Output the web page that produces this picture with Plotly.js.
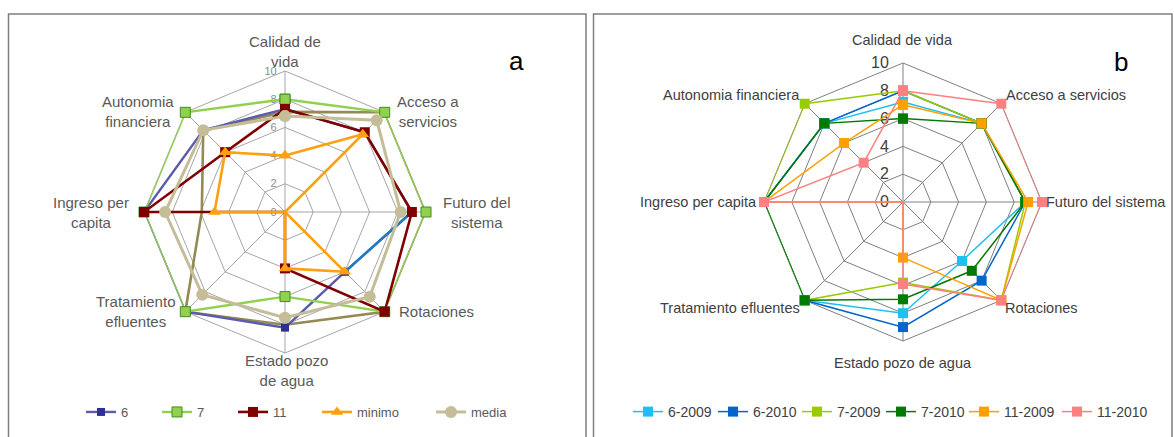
<!DOCTYPE html>
<html>
<head>
<meta charset="utf-8">
<script src="https://cdn.plot.ly/plotly-3.0.1.min.js"></script>
<style>html,body{margin:0;padding:0;background:#fff;}#chart{width:1174px;height:437px;}</style>
</head>
<body>
<div id="chart"></div>
<script>
// Categories (clockwise from top)
const categories = ['Calidad de vida','Acceso a servicios','Futuro del sistema','Rotaciones','Estado pozo de agua','Tratamiento efluentes','Ingreso per capita','Autonomia financiera'];
const labelsA = ['Calidad de<br>vida','Acceso a<br>servicios','Futuro del<br>sistema','Rotaciones','Estado pozo<br>de agua','Tratamiento<br>efluentes','Ingreso per<br>capita','Autonomia<br>financiera'];
const labelsB = categories;
const radialTicks = [0,2,4,6,8,10];

// Chart a
const a6      = [7.3, 8.0, 9.0, 6.0, 8.2, 10, 10, 8.2];
const a7      = [8.0, 10, 10, 10, 6.0, 10, 10, 10];
const a11     = [7.3, 8.0, 9.0, 10, 4.0, 0, 10, 6.0];
const aMinimo = [4.0, 7.8, 0, 6.0, 4.0, 0, 5.0, 6.0];
const aMedia  = [6.8, 9.2, 8.2, 8.5, 7.5, 8.3, 8.5, 8.2];
const aOlive  = [7.1, 10, 10, 10, 8.0, 10, 5.9, 8.2];

// Chart b
const b6_2009  = [7.2, 8, 8.8, 6, 8, 10, 10, 8];
const b6_2010  = [8, 8, 8.8, 8, 9, 10, 10, 8];
const b7_2009  = [8, 8, 8.8, 10, 5.8, 10, 10, 10];
const b7_2010  = [6, 8, 8.8, 7, 7, 10, 10, 8];
const b11_2009 = [7, 8, 9, 10, 4, 0, 10, 6];
const b11_2010 = [8, 10, 10, 10, 5.9, 0, 10, 4];

const W = 1174, H = 437;

// Layout: label placement (pixels) and legend entry x positions
const labelPosA = [[285,52,'center'],[428,112,'center'],[477,212,'center'],[436,312,'center'],[286,370,'center'],[135,312,'center'],[91,212,'center'],[138,112,'center']];
const labelPosB = [[902,40,'center'],[1004,95,'left'],[1044,202,'left'],[1003,308,'left'],[903,363,'center'],[802,308,'right'],[759,202,'right'],[802,95,'right']];
const legendXA = [90,166,242,326,440];
const legendXB = [637,722,806,890,973,1066];
const LEG_OFF = 9;

function closed(v){ return v.concat([v[0]]); }
const thetaC = closed(categories);

function tr(vals, name, sub, leg, color, width, marker, showlegend){
  return {
    type:'scatterpolar', mode:'lines+markers', name:name,
    r: closed(vals), theta: thetaC, subplot: sub, legend: leg,
    line:{color:color, width:width}, marker: marker,
    showlegend: showlegend !== false, hoverinfo:'skip'
  };
}

const traces = [
  tr(aOlive, 'olive', 'polar', 'legend', '#948A54', 2.6, {size:4, color:'#9BBB59'}, false),
  tr(a6, '6', 'polar', 'legend', '#5B5BAE', 2.4, {symbol:'square', size:8, color:'#2E3192'}),
  {type:'scatterpolar', mode:'lines', r: a6.slice(2,4), theta: categories.slice(2,4), subplot:'polar',
   line:{color:'#1C7CC4', width:2.4}, showlegend:false, hoverinfo:'skip'},
  tr(a7, '7', 'polar', 'legend2', '#92D050', 2.4, {symbol:'square', size:10, color:'#92D050', line:{color:'#3E8E1E', width:1}}),
  tr(a11, '11', 'polar', 'legend3', '#800000', 2.6, {symbol:'square', size:10, color:'#800000'}),
  tr(aMinimo, 'minimo', 'polar', 'legend4', '#FFA010', 2.6, {symbol:'triangle-up', size:11, color:'#FFA010'}),
  tr(aMedia, 'media', 'polar', 'legend5', '#C4BD97', 3, {symbol:'circle', size:12, color:'#C4BD97'}),

  tr(b6_2009, '6-2009', 'polar2', 'legend6', '#1EC0F0', 1.5, {symbol:'square', size:10, color:'#1EC0F0'}),
  tr(b6_2010, '6-2010', 'polar2', 'legend7', '#0066CC', 1.5, {symbol:'square', size:10, color:'#0066CC'}),
  tr(b7_2009, '7-2009', 'polar2', 'legend8', '#99CC00', 1.5, {symbol:'square', size:10, color:'#99CC00'}),
  tr(b7_2010, '7-2010', 'polar2', 'legend9', '#007A00', 1.5, {symbol:'square', size:10, color:'#007A00'}),
  tr(b11_2009, '11-2009', 'polar2', 'legend10', '#FFA000', 1.5, {symbol:'square', size:10, color:'#FFA000'}),
  tr(b11_2010, '11-2010', 'polar2', 'legend11', '#FF8080', 1.5, {symbol:'square', size:10, color:'#FF8080'})
];

function dom(cx, cy, r){ return {x:[(cx-r)/W,(cx+r)/W], y:[(H-cy-r)/H,(H-cy+r)/H]}; }

function polarCfg(d, radFont, gridColor, standoff){
  return {
    domain: d, bgcolor:'rgba(0,0,0,0)', gridshape:'linear', hole:0,
    angularaxis:{type:'category', categoryarray: categories, direction:'clockwise', rotation:90,
      showticklabels:false, showgrid:true, gridcolor: gridColor, gridwidth:1, showline:true,
      linecolor: gridColor, linewidth:1, ticks:'', layer:'below traces'},
    radialaxis:{range:[0,10], tickmode:'array', tickvals: radialTicks, angle:90, tickangle:90,
      side:'counterclockwise', showline:false, ticks:'outside', ticklen: standoff, tickcolor:'rgba(0,0,0,0)',
      tickfont: radFont, showgrid:true, gridcolor: gridColor, gridwidth:1, layer:'below traces'}
  };
}

const annotations = [
  {text:'a', xref:'paper', yref:'paper', x:516/W, y:(H-61)/H, xanchor:'center', yanchor:'middle', showarrow:false, font:{size:26, color:'#000'}},
  {text:'b', xref:'paper', yref:'paper', x:1121/W, y:(H-62)/H, xanchor:'center', yanchor:'middle', showarrow:false, font:{size:26, color:'#000'}}
];
labelsA.forEach((t,i)=>annotations.push({text:t, xref:'paper', yref:'paper', x:labelPosA[i][0]/W, y:(H-labelPosA[i][1])/H,
  xanchor:labelPosA[i][2], yanchor:'middle', align:'center', showarrow:false, font:{size:15, color:'#595959'}}));
labelsB.forEach((t,i)=>annotations.push({text:t, xref:'paper', yref:'paper', x:labelPosB[i][0]/W, y:(H-labelPosB[i][1])/H,
  xanchor:labelPosB[i][2], yanchor:'middle', showarrow:false, font:{size:14.5, color:'#404040'}}));

const layout = {
  width: W, height: H, margin:{l:0,r:0,t:0,b:0}, paper_bgcolor:'#fff',
  font:{family:'Liberation Sans, Arial, sans-serif'},
  polar: polarCfg(dom(285, 212, 141), {size:11, color:'#8C8C8C'}, '#A6A6A6', 4),
  polar2: polarCfg(dom(903, 202, 139), {size:16, color:'#404040'}, '#808080', 8),
  shapes:[
    {type:'rect', xref:'paper', yref:'paper', x0:8.5/W, x1:586/W, y0:-0.05, y1:(H-14)/H, line:{color:'#7F7F7F', width:1.5}},
    {type:'rect', xref:'paper', yref:'paper', x0:593.5/W, x1:1172/W, y0:-0.05, y1:(H-14)/H, line:{color:'#7F7F7F', width:1.5}}
  ],
  annotations: annotations
};
legendXA.forEach((x,i)=>{ layout[i===0?'legend':'legend'+(i+1)] = {orientation:'h', x:(x-LEG_OFF)/W, xanchor:'left', y:(H-412)/H, yanchor:'middle',
  font:{size:13, color:'#595959'}, itemwidth:30, bgcolor:'rgba(0,0,0,0)', borderwidth:0}; });
legendXB.forEach((x,i)=>{ layout['legend'+(i+6)] = {orientation:'h', x:(x-LEG_OFF)/W, xanchor:'left', y:(H-412)/H, yanchor:'middle',
  font:{size:14, color:'#404040'}, itemwidth:30, bgcolor:'rgba(0,0,0,0)', borderwidth:0}; });

Plotly.newPlot('chart', traces, layout, {staticPlot:true, displayModeBar:false});
</script>
</body>
</html>
